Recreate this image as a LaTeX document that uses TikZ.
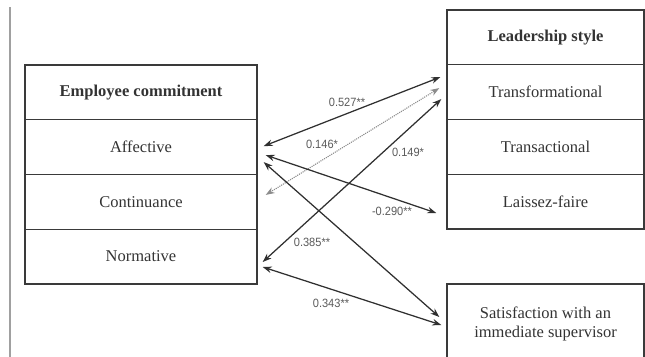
\documentclass[tikz,border=0pt]{standalone}
\usepackage{fontspec}
\setmainfont{Liberation Serif}
\newfontfamily\boxfont{Liberation Serif}
\newfontfamily\labelfont[FakeStretch=0.92]{Liberation Sans}
\usetikzlibrary{arrows.meta,calc}
\definecolor{framec}{HTML}{3A3A3A}
\definecolor{boxtext}{HTML}{333333}
\definecolor{linkc}{HTML}{303030}
\definecolor{dotc}{HTML}{8C8C8C}
\definecolor{labelc}{HTML}{5A5A5A}
\definecolor{rulec}{HTML}{A0A0A0}

\begin{document}
\begin{tikzpicture}[x=1pt,y=-1pt,
  cell/.style={draw=framec, line width=1.4pt, inner sep=0pt,
    minimum height=54.75pt, text=boxtext,
    font=\boxfont\fontsize{16.5}{19}\selectfont},
  lcell/.style={cell, minimum width=232pt},
  rcell/.style={cell, minimum width=197pt},
  head/.style={font=\boxfont\fontsize{16.5}{19}\selectfont\bfseries},
  link/.style={draw=linkc, line width=1.25pt, <->,
    >={Stealth[length=9pt,width=6.5pt,inset=3pt]}},
  dotlink/.style={draw=dotc, line width=1.1pt, densely dotted, <->,
    >={Stealth[length=9pt,width=6.5pt,inset=3pt]}},
  coef/.style={font=\labelfont\fontsize{12}{14}\selectfont, text=labelc, inner sep=0pt}]

  \useasboundingbox (0,0) rectangle (645,356);

  % vertical rule at the left margin
  \draw[rulec, line width=2pt] (10,7) -- (10,360);

  % employee commitment
  \node[lcell, head] (ec)  at (141,92.4)  {Employee commitment};
  \node[lcell]       (aff) at (141,147.1) {Affective};
  \node[lcell]       (con) at (141,201.9) {Continuance};
  \node[lcell]       (nor) at (141,256.6) {Normative};

  % leadership style
  \node[rcell, head] (ls) at (545.5,37.4)  {Leadership style};
  \node[rcell]       (tf) at (545.5,92.1)  {Transformational};
  \node[rcell]       (tr) at (545.5,146.9) {Transactional};
  \node[rcell]       (lf) at (545.5,201.6) {Laissez-faire};

  % supervisor satisfaction (box runs past the lower edge)
  \node[rcell, minimum height=80pt, align=center] (sat) at (545.5,324)
    {Satisfaction with an\\immediate supervisor};

  % connector end points
  \coordinate (affA) at ([shift={(6,-1)}]aff.east);
  \coordinate (affD) at ([shift={(8,8)}]aff.east);
  \coordinate (affE) at ([shift={(6,15)}]aff.east);
  \coordinate (conB) at ([shift={(8,-7)}]con.east);
  \coordinate (norC) at ([shift={(5,5.4)}]nor.east);
  \coordinate (norF) at ([shift={(5,10.4)}]nor.east);
  \coordinate (tfA)  at ([shift={(-6,-15)}]tf.west);
  \coordinate (tfB)  at ([shift={(-7,-4)}]tf.west);
  \coordinate (tfC)  at ([shift={(-5,7)}]tf.west);
  \coordinate (lfD)  at ([shift={(-10,11.4)}]lf.west);
  \coordinate (satE) at ([shift={(-7,-7)}]sat.west);
  \coordinate (satF) at ([shift={(-5,1)}]sat.west);

  % correlations
  \draw[link]    (affA) -- (tfA);
  \draw[dotlink] (conB) -- (tfB);
  \draw[link]    (norC) -- (tfC);
  \draw[link]    (affD) -- (lfD);
  \draw[link]    (affE) -- (satE);
  \draw[link]    (norF) -- (satF);

  % coefficients
  \node[coef] (cA) at (347,102) {0.527**};
  \node[coef] (cB) at (322,144) {0.146*};
  \node[coef] (cC) at (408,152) {0.149*};
  \node[coef] (cD) at (392,211) {-0.290**};
  \node[coef] (cE) at (312,242) {0.385**};
  \node[coef] (cF) at (331,303) {0.343**};
\end{tikzpicture}
\end{document}
